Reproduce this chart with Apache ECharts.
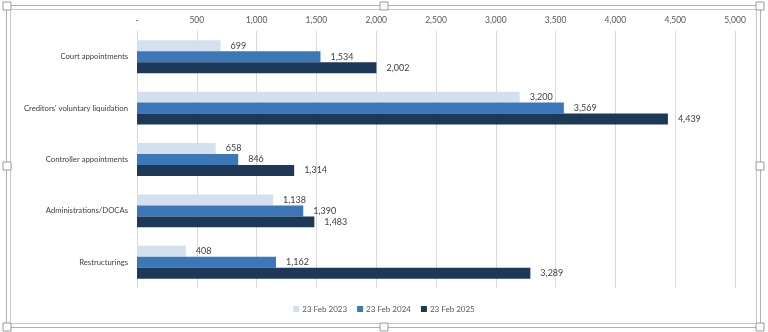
<!DOCTYPE html>
<html><head><meta charset="utf-8">
<script src="https://cdn.jsdelivr.net/npm/echarts@6/dist/echarts.min.js"></script>
<style>html,body{margin:0;padding:0;background:#fff}#c{width:768px;height:332px}</style>
</head><body><div id="c"></div>
<script>
const categories = ['Court appointments', "Creditors' voluntary liquidation", 'Controller appointments', 'Administrations/DOCAs', 'Restructurings'];
const seriesNames = ['23 Feb 2023', '23 Feb 2024', '23 Feb 2025'];
const values2023 = [699, 3200, 658, 1138, 408];
const values2024 = [1534, 3569, 846, 1390, 1162];
const values2025 = [2002, 4439, 1314, 1483, 3289];
const colors = ['#D5E0EF', '#3C77B7', '#1E3857'];
const FONT = 'Lato, "Liberation Sans", sans-serif';

const chart = echarts.init(document.getElementById('c'), null, {renderer: 'canvas'});
const mk = (name, data, i) => ({
  name, type: 'bar', data, barGap: '0%', barCategoryGap: '36%',
  itemStyle: {color: colors[i]},
  label: {show: true, position: 'right', distance: 10, color: '#404040', fontSize: 9, fontFamily: FONT,
    formatter: p => p.value.toLocaleString('en-US')}
});
const handle = (x, y) => ({type: 'rect', shape: {x: x - 4, y: y - 4, width: 8, height: 8},
  style: {fill: '#fff', stroke: '#9a9a9a', lineWidth: 1}, z: 10});
chart.setOption({
  animation: false,
  textStyle: {fontFamily: FONT},
  grid: {left: 137, right: 33, top: 31, bottom: 44, containLabel: false, outerBoundsMode: 'none'},
  legend: {bottom: 19, left: 'center', itemWidth: 6, itemHeight: 6, itemGap: 10, icon: 'rect',
    textStyle: {fontSize: 8, color: '#595959', fontFamily: FONT, padding: [0, 0, 0, -2]}, padding: 0, data: seriesNames},
  xAxis: {type: 'value', position: 'top', min: 0, max: 5000, interval: 500,
    axisLine: {show: false}, axisTick: {show: false},
    splitLine: {lineStyle: {color: '#D9D9D9', width: 1}},
    axisLabel: {color: '#595959', fontSize: 8.5, fontFamily: FONT, margin: 6,
      formatter: v => v === 0 ? '-' : v.toLocaleString('en-US')}},
  yAxis: {type: 'category', data: categories, inverse: true,
    axisLine: {show: true, lineStyle: {color: '#D9D9D9'}}, axisTick: {show: false},
    axisLabel: {color: '#404040', fontSize: 7.7, fontFamily: FONT, margin: 9}},
  series: [mk(seriesNames[0], values2023, 0), mk(seriesNames[1], values2024, 1), mk(seriesNames[2], values2025, 2)],
  graphic: [
    {type: 'rect', shape: {x: 6.5, y: 5.5, width: 754, height: 322}, style: {fill: null, stroke: '#b0b0b0', lineWidth: 1}},
    {type: 'rect', shape: {x: 10.5, y: 9.5, width: 746, height: 314}, style: {fill: null, stroke: '#c8c8c8', lineWidth: 1}},
    handle(7, 6), handle(384, 6), handle(760, 6),
    handle(7, 166), handle(760, 166),
    handle(7, 327), handle(384, 327), handle(760, 327)
  ]
});
</script></body></html>
